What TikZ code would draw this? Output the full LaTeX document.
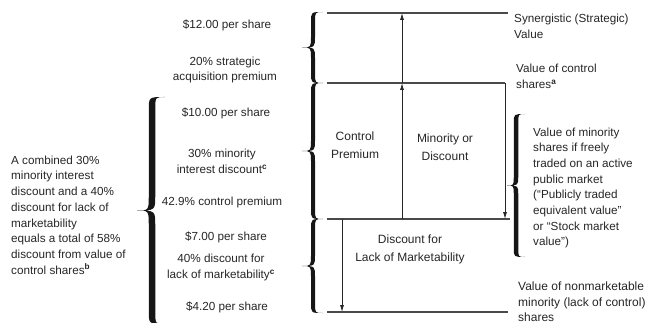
\documentclass[tikz,border=0pt]{standalone}
\usepackage{fontspec}
\setmainfont{Liberation Sans}
\usetikzlibrary{arrows.meta}
\definecolor{ink}{HTML}{262626}
\definecolor{rulegray}{HTML}{4A4A4A}
\definecolor{bracecol}{HTML}{161616}

% A tapered left curly brace drawn as a filled outline.
% #1 end x, #2 spine x, #3 tip x, #4 top y, #5 bottom y, #6 spine width
\newcommand\leftcurl[6]{%
  \pgfmathsetmacro\lcA{#2-#6/2}%
  \pgfmathsetmacro\lcB{#2+#6/2}%
  \pgfmathsetmacro\lcR{#1-#2}%
  \pgfmathsetmacro\lcT{#2-#3}%
  \pgfmathsetmacro\lcM{(#4+#5)/2}%
  \fill[bracecol] (#1,#4)
    .. controls (\lcA,#4) .. (\lcA,{#4+\lcR})
    -- (\lcA,{\lcM-\lcT})
    .. controls (\lcA,\lcM) .. (#3,\lcM)
    .. controls (\lcA,\lcM) .. (\lcA,{\lcM+\lcT})
    -- (\lcA,{#5-\lcR})
    .. controls (\lcA,#5) .. (#1,#5)
    .. controls (\lcB,#5) .. (\lcB,{#5-\lcR})
    -- (\lcB,{\lcM+\lcT})
    .. controls (\lcB,\lcM) .. (#3,\lcM)
    .. controls (\lcB,\lcM) .. (\lcB,{\lcM-\lcT})
    -- (\lcB,{#4+\lcR})
    .. controls (\lcB,#4) .. (#1,#4) -- cycle;}

\begin{document}
\begin{tikzpicture}[x=1pt,y=-1pt,
  txt/.style={text=ink, inner sep=0pt, font=\fontsize{11.7}{15.7}\selectfont, align=center},
  sidetxt/.style={txt, align=left, anchor=west},
  boxtxt/.style={text=ink, inner sep=0pt, font=\fontsize{12}{18}\selectfont, align=center},
  level/.style={rulegray, line width=1.2pt},
  arrowline/.style={ink, line width=0.8pt, -{Latex[length=7pt,width=4pt]}}]
\useasboundingbox (0,0) rectangle (647,323);
\clip (0,0) rectangle (647,323);

% value levels
\coordinate (t1) at (327,13);  \coordinate (t2) at (508,13);
\coordinate (c1) at (327,83);  \coordinate (c2) at (505,83);
\coordinate (m1) at (327,219); \coordinate (m2) at (510,219);
\coordinate (b1) at (327,312); \coordinate (b2) at (508,312);
\draw[level] (t1) -- (t2);
\draw[level] (c1) -- (c2);
\draw[level] (m1) -- (m2);
\draw[level] (b1) -- (b2);

% arrows between levels
\coordinate (upA) at (402,219);
\coordinate (upB) at (402,83);
\coordinate (upC) at (402,13);
\draw[arrowline] (upA) -- (upB);
\draw[arrowline] (upB) -- (upC);
\coordinate (dnA) at (505,83);
\coordinate (dnB) at (505,219);
\draw[arrowline] (dnA) -- (dnB);
\coordinate (dlA) at (342,219);
\coordinate (dlB) at (342,312);
\draw[arrowline] (dlA) -- (dlB);

% braces
\leftcurl{323}{313}{302}{12}{83}{4}
\leftcurl{323}{313}{302}{83}{219}{4}
\leftcurl{323}{313}{302}{219}{313}{4}
\leftcurl{165}{152}{137}{97}{324}{6.5}
\leftcurl{525}{516}{507}{114}{257}{4.5}

% central column
\node[txt] (p12) at (227,25) {\$12.00 per share};
\node[txt] (sap) at (225,70) {20\% strategic\\acquisition premium};
\node[txt] (p10) at (226,113) {\$10.00 per share};
\node[txt] (mid) at (222,161.5) {30\% minority\\interest discount\textsuperscript{\textbf{c}}};
\node[txt] (cpr) at (222,202) {42.9\% control premium};
\node[txt] (p7)  at (226,237) {\$7.00 per share};
\node[txt] (dlm) at (221,267.5) {40\% discount for\\lack of marketability\textsuperscript{\textbf{c}}};
\node[txt] (p4)  at (227,307) {\$4.20 per share};

% left note
\node[sidetxt] (note) at (11,215) {A combined 30\%\\minority interest\\discount and a 40\%\\discount for lack of\\marketability\\equals a total of 58\%\\discount from value of\\control shares\textsuperscript{\textbf{b}}};

% labels inside the chart
\node[boxtxt] (ctl) at (355,145) {Control\\Premium};
\node[boxtxt] (mod) at (445,147) {Minority or\\Discount};
\node[boxtxt] (dfl) at (410,249) {Discount for\\Lack of Marketability};

% right-hand labels
\node[sidetxt] (syn) at (514,26.5) {Synergistic (Strategic)\\Value};
\node[sidetxt] (vcs) at (516,76.5) {Value of control\\shares\textsuperscript{\textbf{a}}};
\node[sidetxt] (vms) at (533,188) {Value of minority\\shares if freely\\traded on an active\\public market\\(“Publicly traded\\equivalent value”\\or “Stock market\\value”)};
\node[sidetxt, font=\fontsize{12}{15.5}\selectfont] (vnm) at (518,302) {Value of nonmarketable\\minority (lack of control)\\shares};
\end{tikzpicture}
\end{document}
